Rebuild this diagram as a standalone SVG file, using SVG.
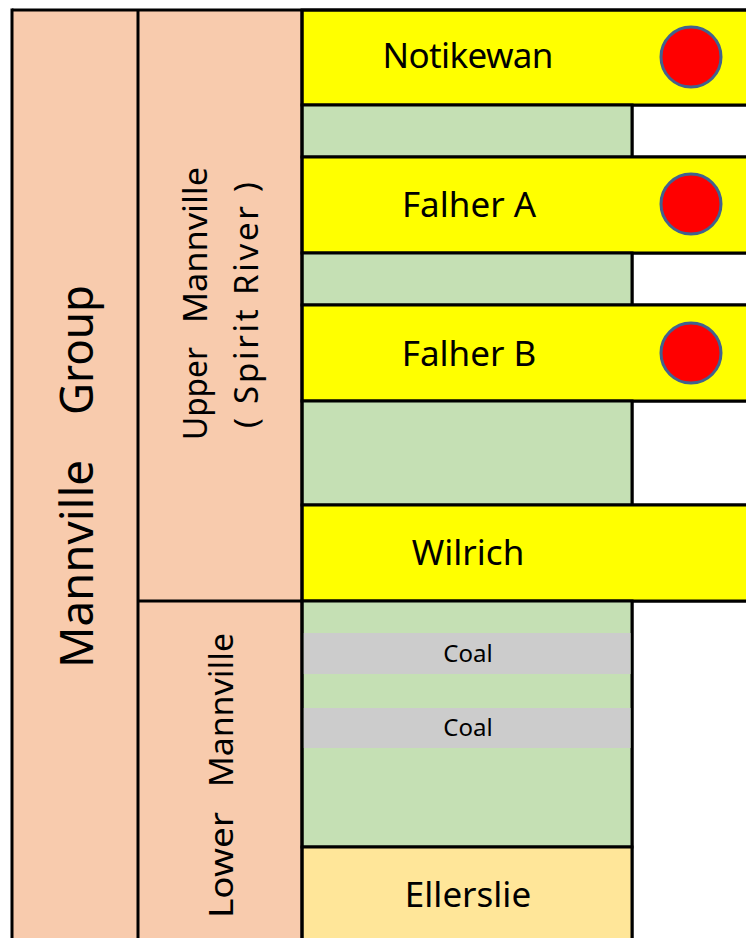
<svg xmlns="http://www.w3.org/2000/svg" width="746" height="938" viewBox="0 0 746 938">
<style>
.ln{stroke:#000;stroke-width:3;fill:none}
.peach{fill:#F8CBAD}
.yel{fill:#FFFF00;stroke:#000;stroke-width:3}
.grn{fill:#C5E0B4;stroke:#000;stroke-width:3}
.wht{fill:#FFFFFF;stroke:#000;stroke-width:3}
.coal{fill:#CCCCCC}
.ell{fill:#FFE699;stroke:#000;stroke-width:3}
.dot{fill:#FF0000;stroke:#41628F;stroke-width:3}
text{font-family:"Noto Sans","Open Sans",sans-serif;fill:#000;text-anchor:middle}
.vs{text-anchor:start}
</style>
<rect width="746" height="938" fill="#FFFFFF"/>
<g id="col-mannville-group">
<rect class="peach" x="12" y="10" width="126" height="930"/>
<text class="vs" x="0" y="0" font-size="45" transform="translate(93,668) rotate(-90)" textLength="208" lengthAdjust="spacingAndGlyphs">Mannville</text>
<text class="vs" x="0" y="0" font-size="45" transform="translate(93,415) rotate(-90)" textLength="130" lengthAdjust="spacingAndGlyphs">Group</text>
</g>
<g id="col-upper-mannville">
<rect class="peach" x="138" y="10" width="164" height="591"/>
<text class="vs" x="0" y="0" font-size="33" transform="translate(207,440) rotate(-90)" textLength="93" lengthAdjust="spacingAndGlyphs">Upper</text>
<text class="vs" x="0" y="0" font-size="33" transform="translate(207,323) rotate(-90)" textLength="156" lengthAdjust="spacingAndGlyphs">Mannville</text>
<text x="0" y="0" font-size="33" transform="translate(258,305) rotate(-90)" textLength="246" lengthAdjust="spacing">( Spirit River )</text>
</g>
<g id="col-lower-mannville">
<rect class="peach" x="138" y="601" width="164" height="340"/>
<text class="vs" x="0" y="0" font-size="33" transform="translate(233,918) rotate(-90)" textLength="106" lengthAdjust="spacingAndGlyphs">Lower</text>
<text class="vs" x="0" y="0" font-size="33" transform="translate(233,787) rotate(-90)" textLength="154" lengthAdjust="spacingAndGlyphs">Mannville</text>
</g>
<g id="white-1"><rect class="wht" x="632" y="105" width="120" height="52"/></g>
<g id="white-2"><rect class="wht" x="632" y="253" width="120" height="52"/></g>
<g id="white-3"><rect class="wht" x="632" y="401" width="120" height="104"/></g>
<g id="white-4"><rect class="wht" x="632" y="601" width="120" height="340"/></g>
<g id="notikewan">
<rect class="yel" x="302" y="10" width="450" height="95"/>
<text x="468" y="68" font-size="35" textLength="171" lengthAdjust="spacing">Notikewan</text>
<circle class="dot" cx="691" cy="57" r="30"/>
</g>
<g id="shale-1"><rect class="grn" x="302" y="105" width="330" height="52"/></g>
<g id="falher-a">
<rect class="yel" x="302" y="157" width="450" height="96"/>
<text x="469" y="217" font-size="35">Falher A</text>
<circle class="dot" cx="691" cy="204" r="30"/>
</g>
<g id="shale-2"><rect class="grn" x="302" y="253" width="330" height="52"/></g>
<g id="falher-b">
<rect class="yel" x="302" y="305" width="450" height="96"/>
<text x="469" y="366" font-size="35">Falher B</text>
<circle class="dot" cx="691" cy="353" r="30"/>
</g>
<g id="shale-3"><rect class="grn" x="302" y="401" width="330" height="104"/></g>
<g id="wilrich">
<rect class="yel" x="302" y="505" width="450" height="96"/>
<text x="468" y="565" font-size="35">Wilrich</text>
</g>
<g id="lower-shale">
<rect class="grn" x="302" y="601" width="330" height="246"/>
<rect class="coal" x="303.5" y="633" width="327" height="41"/>
<text x="468" y="662" font-size="24">Coal</text>
<rect class="coal" x="303.5" y="708" width="327" height="40"/>
<text x="468" y="736" font-size="24">Coal</text>
</g>
<g id="ellerslie">
<rect class="ell" x="302" y="847" width="330" height="94"/>
<text x="468" y="907" font-size="35">Ellerslie</text>
</g>
<g id="connectors">
<line class="ln" x1="12" y1="10" x2="746" y2="10"/>
<line class="ln" x1="12" y1="8.5" x2="12" y2="938"/>
<line class="ln" x1="138" y1="10" x2="138" y2="938"/>
<line class="ln" x1="302" y1="10" x2="302" y2="938"/>
<line class="ln" x1="138" y1="601" x2="302" y2="601"/>
</g>
</svg>
